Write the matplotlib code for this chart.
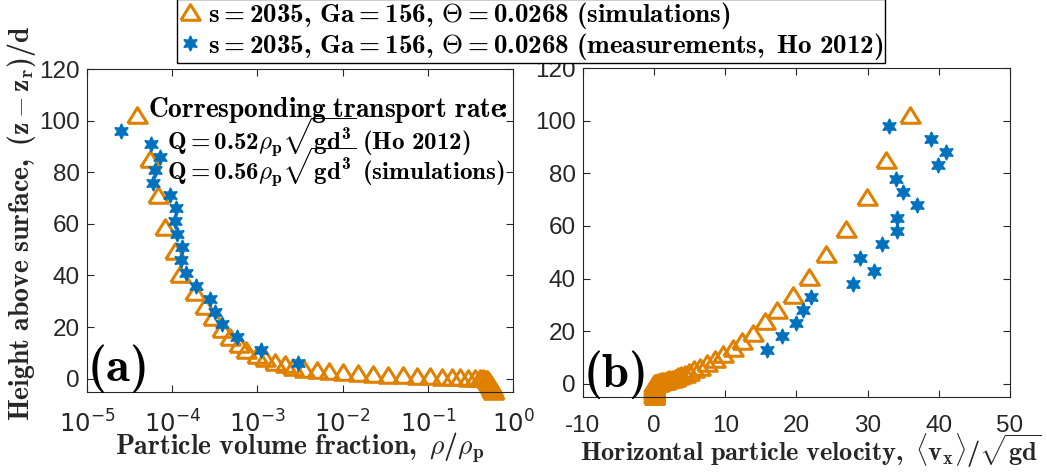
import matplotlib
matplotlib.use("Agg")
import matplotlib.pyplot as plt
from matplotlib.lines import Line2D

# bold computer modern for all math text, sans for tick labels
plt.rcParams["mathtext.fontset"] = "custom"
plt.rcParams["mathtext.rm"] = "cmb10"
plt.rcParams["mathtext.bf"] = "cmb10"
plt.rcParams["mathtext.it"] = "cmmi10"
plt.rcParams["mathtext.fallback"] = "cm"
plt.rcParams["font.family"] = ["Liberation Sans", "DejaVu Sans"]
plt.rcParams["axes.unicode_minus"] = False

# simulations (s = 2035, Ga = 156, Theta = 0.0268)
sim_height = [102.2, 85.2, 71.0, 58.8, 49.5, 40.6, 33.7, 28.0, 23.8, 19.3,
              16.1, 13.5, 11.2, 9.3, 7.8, 6.5, 5.5, 4.6, 3.9, 3.3,
              2.8, 2.4, 2.0, 1.7, 1.45, 1.25, 1.05, 0.9, 0.75, 0.6,
              0.5, 0.4, 0.3, 0.2, 0.1, 0.0, -0.25, -0.5, -0.75, -1.0,
              -1.25, -1.5, -1.75, -2.0, -2.25, -2.5, -2.75, -3.0, -3.25, -3.5,
              -3.75, -4.0, -4.25, -4.5, -4.75]
sim_rho = [3.9e-5, 5.5e-5, 6.9e-5, 8.2e-5, 1.07e-4, 1.23e-4, 1.86e-4, 2.45e-4, 3.0e-4, 3.8e-4,
           4.8e-4, 6.0e-4, 7.4e-4, 9.8e-4, 1.23e-3, 1.6e-3, 2.1e-3, 2.6e-3, 3.5e-3, 5.0e-3,
           7.0e-3, 1.0e-2, 1.5e-2, 2.3e-2, 3.4e-2, 5.1e-2, 7.4e-2, 0.107, 0.148, 0.19,
           0.24, 0.295, 0.36, 0.41, 0.45, 0.48, 0.50, 0.505, 0.51, 0.515,
           0.52, 0.525, 0.53, 0.535, 0.54, 0.545, 0.55, 0.555, 0.56, 0.565,
           0.57, 0.572, 0.575, 0.578, 0.58]
sim_vx = [35.9, 32.6, 29.9, 26.9, 24.1, 21.7, 19.5, 17.3, 15.6, 13.9,
          12.4, 11.1, 9.7, 8.5, 7.4, 6.4, 5.6, 4.9, 4.3, 3.8,
          3.3, 2.9, 2.5, 2.1, 1.8, 1.5, 1.2, 1.0, 0.8, 0.6,
          0.5, 0.35, 0.25, 0.15, 0.1, 0.05, 0.0, 0.0, 0.0, 0.0,
          0.0, 0.0, 0.0, 0.0, 0.0, 0.0, 0.0, 0.0, 0.0, 0.0,
          0.0, 0.0, 0.0, 0.0, 0.0]

# measurements (Ho 2012)
meas_rho_height = [96, 91, 86, 81, 76, 71, 66, 61, 56, 51, 46, 41, 36, 31, 26, 21, 16, 11, 6]
meas_rho = [2.5e-5, 5.7e-5, 7.2e-5, 6.3e-5, 6.0e-5, 9.4e-5, 1.11e-4, 1.08e-4, 1.15e-4, 1.29e-4,
            1.26e-4, 1.45e-4, 1.9e-4, 2.8e-4, 3.2e-4, 3.8e-4, 5.7e-4, 1.1e-3, 3.0e-3]
meas_vx_height = [98, 93, 88, 83, 78, 73, 68, 63, 58, 53, 48, 43, 38, 33, 28, 23, 18, 13]
meas_vx = [33.0, 38.9, 41.0, 39.9, 34.0, 35.0, 37.0, 34.1, 34.1, 32.0,
           28.9, 30.9, 28.0, 22.0, 20.9, 19.9, 17.9, 15.9]

log_ticks = [1e-5, 1e-4, 1e-3, 1e-2, 1e-1, 1e0]
log_labels = [r"$10^{-5}$", r"$10^{-4}$", r"$10^{-3}$", r"$10^{-2}$", r"$10^{-1}$", r"$10^{0}$"]
vx_ticks = [-10, 0, 10, 20, 30, 40, 50]
y_ticks = [0, 20, 40, 60, 80, 100, 120]

ORANGE = "#E08000"
BLUE = "#0072BD"
GRAY = "#262626"
TRI = [(-1, -0.8), (1, -0.8), (0, 0.8), (-1, -0.8)]
STAR = (6, 1, 0)

sim_style = dict(linestyle="none", marker=TRI, markersize=14, markerfacecolor="none",
                 markeredgecolor=ORANGE, markeredgewidth=2.2, clip_on=False)
meas_style = dict(linestyle="none", marker=STAR, markersize=11, markerfacecolor=BLUE,
                  markeredgecolor=BLUE, clip_on=False)

fig = plt.figure(figsize=(10.47, 4.72), dpi=100)
ax1 = fig.add_axes([0.0831, 0.1705, 0.4069, 0.6833])
ax2 = fig.add_axes([0.5568, 0.1589, 0.4078, 0.6970])

ax1.plot(sim_rho, sim_height, **sim_style)
ax1.plot(meas_rho, meas_rho_height, **meas_style)
ax2.plot(sim_vx, sim_height, **sim_style)
ax2.plot(meas_vx, meas_vx_height, **meas_style)

ax1.set_xscale("log")
ax1.set_xlim(1e-5, 1)
ax1.set_xticks(log_ticks, log_labels, math_fontfamily="dejavusans")
ax2.set_xlim(-10, 50)
ax2.set_xticks(vx_ticks)

for ax in (ax1, ax2):
    ax.set_ylim(-5, 120)
    ax.set_yticks(y_ticks)
    ax.tick_params(which="both", direction="in", top=True, right=True,
                   color=GRAY, labelcolor=GRAY, labelsize=17.5, width=0.8)
    ax.tick_params(which="major", length=5)
    ax.tick_params(which="minor", length=3)
    ax.tick_params(axis="y", pad=5)
    for sp in ax.spines.values():
        sp.set_color(GRAY)
        sp.set_linewidth(0.8)
ax1.tick_params(axis="x", pad=13.5)
ax2.tick_params(axis="x", pad=13)

ax1.set_xlabel(r"$\mathbf{Particle\ volume\ fraction,\ }\rho/\rho_\mathbf{p}$",
               fontsize=20, color=GRAY, va="center")
ax1.xaxis.set_label_coords(0.498, -0.175)
ax2.set_xlabel(r"$\mathbf{Horizontal\ particle\ velocity,\ }\langle \mathbf{v_x}\rangle/\sqrt{\mathbf{gd}}$",
               fontsize=19, color=GRAY, va="center")
ax2.xaxis.set_label_coords(0.532, -0.163)
ax1.set_ylabel(r"$\mathbf{Height\ above\ surface,\ (z - z_r)/d}$",
               fontsize=20, color=GRAY, va="center")
ax1.yaxis.set_label_coords(-0.153, 0.522)

ax1.text(0.0, -0.012, r"$\mathbf{(a)}$", transform=ax1.transAxes, fontsize=35,
         ha="left", va="bottom")
ax2.text(0.0, -0.012, r"$\mathbf{(b)}$", transform=ax2.transAxes, fontsize=35,
         ha="left", va="bottom")

ax1.text(0.143, 0.872, r"$\mathbf{Corresponding\ transport\ rate\!\!:}$", transform=ax1.transAxes,
         fontsize=19.8, ha="left", va="center")
ax1.text(0.188, 0.787, r"$\mathbf{Q = 0.52}\rho_\mathbf{p}\sqrt{\mathbf{gd^3}}\ \mathbf{(Ho\ 2012)}$",
         transform=ax1.transAxes, fontsize=18, ha="left", va="center")
ax1.text(0.188, 0.694, r"$\mathbf{Q = 0.56}\rho_\mathbf{p}\sqrt{\mathbf{gd^3}}\ \mathbf{(simulations)}$",
         transform=ax1.transAxes, fontsize=18, ha="left", va="center")

handles = [Line2D([], [], **sim_style), Line2D([], [], **meas_style)]
labels = [r"$\mathbf{s = 2035,\,Ga = 156,\,\Theta = 0.0268\ (simulations)}$",
          r"$\mathbf{s = 2035,\,Ga = 156,\,\Theta = 0.0268\ (measurements,\ Ho\ 2012)}$"]
fig.legend(handles, labels, loc="upper center", bbox_to_anchor=(0.5075, 1.003),
           fontsize=19.5, frameon=True, fancybox=False, edgecolor="black",
           framealpha=1, handlelength=0.8, handletextpad=0.3, borderpad=0.05,
           labelspacing=0.0, borderaxespad=0)

fig.savefig("out.png", dpi=100)
